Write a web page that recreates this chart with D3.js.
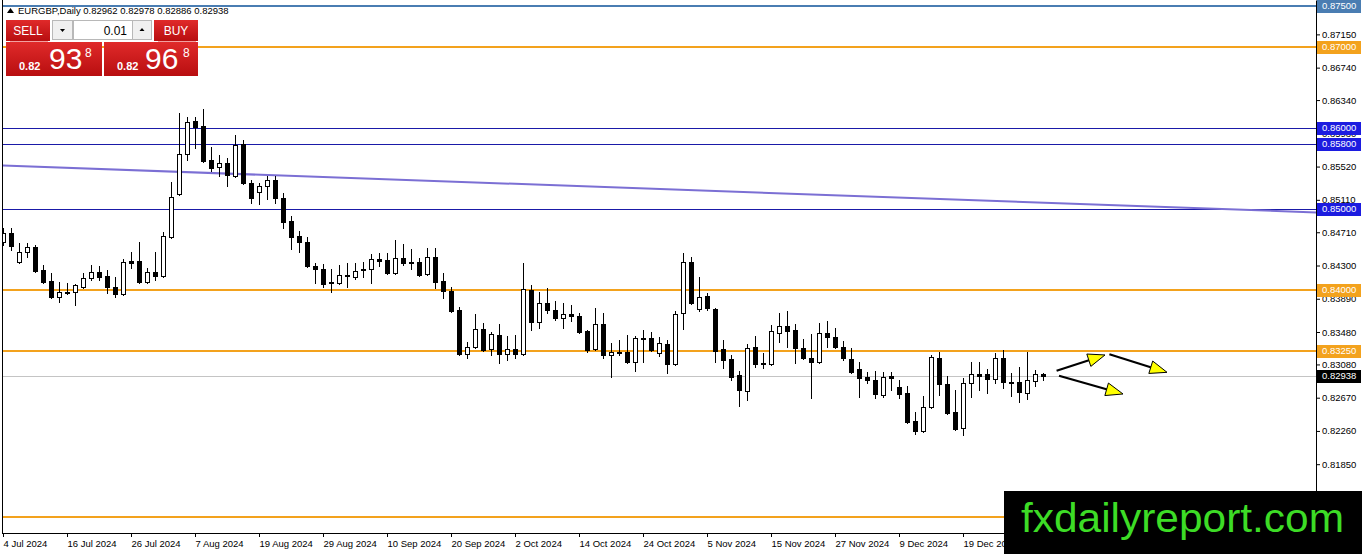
<!DOCTYPE html>
<html>
<head>
<meta charset="utf-8">
<script src="https://cdn.jsdelivr.net/npm/d3@7"></script>
<style>
body { margin: 0; background: #fff; }
svg { display: block; font-family: 'Liberation Sans', Arial, sans-serif; }
</style>
</head>
<body>
<svg id="chart" width="1362" height="554"></svg>
<script>
// ---- data ----
var symbol = 'EURGBP,Daily';
var lastQuote = [0.82962, 0.82978, 0.82886, 0.82938];   // O H L C of the last bar
var bidParts = ['0.82', '93', '8'];
var askParts = ['0.82', '96', '8'];
var lotSize = '0.01';
var currentPrice = 0.82938;

// daily bars from 4 Jul 2024, [open, high, low, close]
var ohlc = [
  [0.84590, 0.84763, 0.84553, 0.84701],
  [0.84701, 0.84763, 0.84491, 0.84541],
  [0.84343, 0.84578, 0.84331, 0.84467],
  [0.84467, 0.84578, 0.84405, 0.84528],
  [0.84528, 0.84553, 0.84220, 0.84233],
  [0.84245, 0.84306, 0.84085, 0.84097],
  [0.84109, 0.84208, 0.83900, 0.83912],
  [0.83912, 0.84097, 0.83850, 0.83974],
  [0.83974, 0.84085, 0.83949, 0.83961],
  [0.83974, 0.84072, 0.83813, 0.84060],
  [0.84035, 0.84208, 0.84023, 0.84146],
  [0.84146, 0.84306, 0.84122, 0.84220],
  [0.84220, 0.84294, 0.84122, 0.84159],
  [0.84171, 0.84245, 0.83961, 0.84035],
  [0.84035, 0.84159, 0.83912, 0.83949],
  [0.83949, 0.84380, 0.83937, 0.84343],
  [0.84356, 0.84467, 0.84270, 0.84331],
  [0.84356, 0.84590, 0.84085, 0.84097],
  [0.84097, 0.84270, 0.84085, 0.84220],
  [0.84220, 0.84467, 0.84122, 0.84171],
  [0.84171, 0.84713, 0.84159, 0.84664],
  [0.84652, 0.85330, 0.84639, 0.85145],
  [0.85182, 0.86181, 0.85170, 0.85675],
  [0.85675, 0.86131, 0.85601, 0.86070],
  [0.86082, 0.86131, 0.85749, 0.86008],
  [0.86020, 0.86230, 0.85577, 0.85589],
  [0.85601, 0.85761, 0.85466, 0.85503],
  [0.85515, 0.85663, 0.85404, 0.85564],
  [0.85564, 0.85626, 0.85281, 0.85416],
  [0.85404, 0.85909, 0.85392, 0.85786],
  [0.85798, 0.85848, 0.85305, 0.85318],
  [0.85318, 0.85355, 0.85071, 0.85133],
  [0.85207, 0.85318, 0.85059, 0.85281],
  [0.85281, 0.85404, 0.85120, 0.85355],
  [0.85355, 0.85404, 0.85071, 0.85133],
  [0.85133, 0.85194, 0.84763, 0.84837],
  [0.84849, 0.84911, 0.84504, 0.84652],
  [0.84664, 0.84726, 0.84467, 0.84590],
  [0.84590, 0.84652, 0.84282, 0.84294],
  [0.84294, 0.84331, 0.84085, 0.84257],
  [0.84257, 0.84319, 0.84035, 0.84072],
  [0.84097, 0.84257, 0.83974, 0.84085],
  [0.84085, 0.84306, 0.84072, 0.84183],
  [0.84183, 0.84331, 0.84035, 0.84171],
  [0.84159, 0.84331, 0.84134, 0.84233],
  [0.84257, 0.84343, 0.84159, 0.84245],
  [0.84257, 0.84442, 0.84085, 0.84380],
  [0.84380, 0.84454, 0.84294, 0.84356],
  [0.84368, 0.84454, 0.84196, 0.84208],
  [0.84208, 0.84615, 0.84196, 0.84393],
  [0.84393, 0.84565, 0.84306, 0.84331],
  [0.84343, 0.84504, 0.84257, 0.84331],
  [0.84343, 0.84393, 0.84171, 0.84183],
  [0.84196, 0.84516, 0.84183, 0.84405],
  [0.84405, 0.84516, 0.84023, 0.84097],
  [0.84109, 0.84208, 0.83900, 0.83986],
  [0.83986, 0.84035, 0.83727, 0.83739],
  [0.83752, 0.83789, 0.83197, 0.83209],
  [0.83209, 0.83357, 0.83160, 0.83296],
  [0.83296, 0.83702, 0.83283, 0.83517],
  [0.83517, 0.83591, 0.83246, 0.83259],
  [0.83271, 0.83480, 0.83197, 0.83456],
  [0.83443, 0.83579, 0.83098, 0.83209],
  [0.83209, 0.83431, 0.83135, 0.83271],
  [0.83271, 0.83443, 0.83160, 0.83209],
  [0.83209, 0.84331, 0.83197, 0.84011],
  [0.83998, 0.84060, 0.83505, 0.83604],
  [0.83604, 0.83974, 0.83530, 0.83838],
  [0.83838, 0.84023, 0.83715, 0.83752],
  [0.83752, 0.83863, 0.83628, 0.83653],
  [0.83653, 0.83838, 0.83530, 0.83702],
  [0.83702, 0.83813, 0.83616, 0.83678],
  [0.83678, 0.83715, 0.83468, 0.83480],
  [0.83493, 0.83505, 0.83234, 0.83259],
  [0.83271, 0.83776, 0.83259, 0.83579],
  [0.83579, 0.83715, 0.83160, 0.83197],
  [0.83197, 0.83345, 0.82926, 0.83234],
  [0.83234, 0.83382, 0.83197, 0.83222],
  [0.83234, 0.83443, 0.83098, 0.83111],
  [0.83111, 0.83431, 0.83000, 0.83407],
  [0.83407, 0.83505, 0.83111, 0.83394],
  [0.83407, 0.83480, 0.83246, 0.83259],
  [0.83222, 0.83419, 0.83185, 0.83345],
  [0.83333, 0.83382, 0.82975, 0.83086],
  [0.83086, 0.83739, 0.83074, 0.83702],
  [0.83715, 0.84454, 0.83517, 0.84343],
  [0.84343, 0.84405, 0.83826, 0.83838],
  [0.83764, 0.84159, 0.83739, 0.83912],
  [0.83924, 0.83961, 0.83752, 0.83776],
  [0.83764, 0.83776, 0.83111, 0.83246],
  [0.83271, 0.83382, 0.83037, 0.83135],
  [0.83148, 0.83197, 0.82889, 0.82926],
  [0.82950, 0.83000, 0.82568, 0.82765],
  [0.82753, 0.83333, 0.82642, 0.83283],
  [0.83296, 0.83431, 0.83049, 0.83086],
  [0.83098, 0.83222, 0.83037, 0.83086],
  [0.83086, 0.83567, 0.83074, 0.83493],
  [0.83468, 0.83715, 0.83357, 0.83554],
  [0.83554, 0.83739, 0.83296, 0.83493],
  [0.83505, 0.83579, 0.83098, 0.83283],
  [0.83283, 0.83394, 0.83148, 0.83160],
  [0.83160, 0.83456, 0.82667, 0.83111],
  [0.83111, 0.83591, 0.83098, 0.83468],
  [0.83468, 0.83616, 0.83296, 0.83419],
  [0.83419, 0.83530, 0.83283, 0.83296],
  [0.83296, 0.83370, 0.83135, 0.83160],
  [0.83148, 0.83283, 0.82975, 0.82987],
  [0.83024, 0.83111, 0.82679, 0.82913],
  [0.82926, 0.82987, 0.82852, 0.82889],
  [0.82889, 0.83000, 0.82667, 0.82716],
  [0.82704, 0.82987, 0.82679, 0.82926],
  [0.82938, 0.82987, 0.82765, 0.82913],
  [0.82802, 0.82889, 0.82667, 0.82716],
  [0.82728, 0.82815, 0.82358, 0.82371],
  [0.82383, 0.82494, 0.82223, 0.82260],
  [0.82260, 0.82691, 0.82247, 0.82556],
  [0.82556, 0.83197, 0.82543, 0.83172],
  [0.83160, 0.83234, 0.82704, 0.82839],
  [0.82839, 0.82938, 0.82469, 0.82482],
  [0.82494, 0.82765, 0.82272, 0.82284],
  [0.82297, 0.82913, 0.82210, 0.82852],
  [0.82852, 0.83111, 0.82679, 0.82963],
  [0.82963, 0.83111, 0.82765, 0.82938],
  [0.82963, 0.83024, 0.82728, 0.82901],
  [0.82901, 0.83222, 0.82852, 0.83160],
  [0.83160, 0.83259, 0.82790, 0.82864],
  [0.82864, 0.82975, 0.82691, 0.82852],
  [0.82864, 0.83049, 0.82617, 0.82741],
  [0.82728, 0.83234, 0.82654, 0.82889],
  [0.82876, 0.83012, 0.82815, 0.82963],
  [0.82962, 0.82978, 0.82886, 0.82938]
];

// date labels under the chart, one every 8 bars
var xTickBars = [0, 8, 16, 24, 32, 40, 48, 56, 64, 72, 80, 88, 96, 104, 112, 120];
var xTickLabels = ['4 Jul 2024', '16 Jul 2024', '26 Jul 2024', '7 Aug 2024', '19 Aug 2024',
  '29 Aug 2024', '10 Sep 2024', '20 Sep 2024', '2 Oct 2024', '14 Oct 2024', '24 Oct 2024',
  '5 Nov 2024', '15 Nov 2024', '27 Nov 2024', '9 Dec 2024', '19 Dec 2024'];

// price scale ticks
var yTicks = [0.87150, 0.86740, 0.86340, 0.85930, 0.85520, 0.85110, 0.84710, 0.84300,
  0.83890, 0.83480, 0.83080, 0.82670, 0.82260, 0.81850];

// horizontal levels drawn on the chart (the lowest one has its tag under the logo)
var levelPrices = [0.875, 0.870, 0.860, 0.858, 0.850, 0.840, 0.8325, 0.812];
var levelKinds = ['top', 'orange', 'blue', 'blue', 'blue', 'orange', 'orange', 'orange'];
var levelTagged = [true, true, true, true, true, true, true, false];

// falling trend line, [bar, price]
var trendLine = [[0, 0.85532], [164, 0.84955]];

// the three forecast arrows, [bar, price] from -> to
var arrows = [
  [[131.7, 0.83003], [137.75, 0.83197]],
  [[138.3, 0.83205], [145.5, 0.82983]],
  [[132.0, 0.82941], [140.0, 0.82716]]
];

// ---- layout ----
var svg = d3.select('#chart');
var W = 1362, H = 554;
var plot = {l: 2, r: 1316, t: 0, b: 533};

var levelStyle = {
  top:    {line: '#4a7db2', label: '#4a7db2', width: 2},
  orange: {line: '#f3a21d', label: '#f3a21d', width: 2},
  blue:   {line: '#1a1aa8', label: '#1c1ce0', width: 1}
};

var x = d3.scaleLinear().domain([0, 164]).range([3, 1315]);
var y = d3.scaleLinear().domain([0.87574, 0.80977]).range([0, 535]);

svg.append('rect').attr('width', W).attr('height', H).attr('fill', '#fff');

var defs = svg.append('defs');
defs.append('clipPath').attr('id', 'plotClip')
  .append('rect').attr('x', 3).attr('y', 0).attr('width', plot.r - 3).attr('height', plot.b);
var grad = defs.append('linearGradient').attr('id', 'redGrad')
  .attr('x1', 0).attr('y1', 0).attr('x2', 0).attr('y2', 1);
grad.append('stop').attr('offset', '0%').attr('stop-color', '#e02a2a');
grad.append('stop').attr('offset', '100%').attr('stop-color', '#b80e10');

var g = svg.append('g').attr('clip-path', 'url(#plotClip)');

// price axis on the right
var yAxis = svg.append('g')
  .attr('transform', 'translate(' + plot.r + ',0)')
  .call(d3.axisRight(y).tickValues(yTicks).tickFormat(d3.format('.5f')).tickSize(4).tickSizeOuter(0));
yAxis.attr('font-family', null).attr('font-size', null);
yAxis.selectAll('text').attr('font-size', '9.5px').attr('x', 6).attr('fill', '#000');
yAxis.select('.domain').attr('stroke', '#000');

// date axis at the bottom
var xAxis = svg.append('g')
  .attr('transform', 'translate(0,' + plot.b + ')')
  .call(d3.axisBottom(x).tickValues(xTickBars)
    .tickFormat(function(d, i) { return xTickLabels[i]; })
    .tickSize(4).tickSizeOuter(0));
xAxis.attr('font-family', null).attr('font-size', null);
xAxis.selectAll('text').attr('font-size', '9.5px').attr('text-anchor', 'start').attr('x', 0).attr('fill', '#000');
xAxis.select('.domain').attr('d', 'M' + plot.l + ',0.5H' + plot.r);

// left frame
svg.append('line').attr('x1', 2.5).attr('x2', 2.5).attr('y1', 0).attr('y2', plot.b)
  .attr('stroke', '#000');

// current price line
var cy = Math.round(y(currentPrice)) + 0.5;
g.append('line').attr('x1', plot.l).attr('x2', plot.r).attr('y1', cy).attr('y2', cy)
  .attr('stroke', '#c4c4c4').attr('stroke-width', 1);

// horizontal levels
levelPrices.forEach(function(p, i) {
  var st = levelStyle[levelKinds[i]];
  var ly = st.width === 1 ? Math.round(y(p)) + 0.5 : Math.round(y(p));
  g.append('line').attr('x1', 0).attr('x2', plot.r).attr('y1', ly).attr('y2', ly)
    .attr('stroke', st.line).attr('stroke-width', st.width);
});

// trend line
var slope = (trendLine[1][1] - trendLine[0][1]) / (trendLine[1][0] - trendLine[0][0]);
g.append('line')
  .attr('x1', x(-1)).attr('y1', y(trendLine[0][1] - slope))
  .attr('x2', x(166)).attr('y2', y(trendLine[0][1] + slope * 166))
  .attr('stroke', '#7b6fd4').attr('stroke-width', 2);

// candles
var bars = g.append('g').attr('class', 'candles');
ohlc.forEach(function(d, i) {
  var xi = Math.round(x(i));
  var o = d[0], h = d[1], l = d[2], c = d[3];
  bars.append('line')
    .attr('x1', xi + 0.5).attr('x2', xi + 0.5)
    .attr('y1', Math.round(y(h))).attr('y2', Math.round(y(l)) + 1)
    .attr('stroke', '#000').attr('stroke-width', 1);
  var yo = Math.round(y(o)), yc = Math.round(y(c));
  if (c > o) {
    bars.append('rect')
      .attr('x', xi - 1.5).attr('y', yc + 0.5)
      .attr('width', 4).attr('height', Math.max(1, yo - yc))
      .attr('fill', '#fff').attr('stroke', '#000').attr('stroke-width', 1);
  } else {
    bars.append('rect')
      .attr('x', xi - 2).attr('y', yo)
      .attr('width', 5).attr('height', Math.max(1, yc - yo + 1))
      .attr('fill', '#000');
  }
});

// arrows
arrows.forEach(function(a) {
  var x0 = x(a[0][0]), y0 = y(a[0][1]), x1 = x(a[1][0]), y1 = y(a[1][1]);
  var ang = Math.atan2(y1 - y0, x1 - x0);
  var len = 17, hw = 6.5;
  g.append('line').attr('x1', x0).attr('y1', y0)
    .attr('x2', x1 - Math.cos(ang) * 8).attr('y2', y1 - Math.sin(ang) * 8)
    .attr('stroke', '#000').attr('stroke-width', 2.2);
  var bx = x1 - Math.cos(ang) * len, by = y1 - Math.sin(ang) * len;
  var px = -Math.sin(ang) * hw, py = Math.cos(ang) * hw;
  g.append('path')
    .attr('d', 'M' + x1 + ',' + y1 + 'L' + (bx + px) + ',' + (by + py) + 'L' + (bx - px) + ',' + (by - py) + 'Z')
    .attr('fill', '#ffff00').attr('stroke', '#000').attr('stroke-width', 1);
});

// price labels for levels (drawn over the axis)
function priceTag(p, bg) {
  var ty = Math.round(y(p));
  svg.append('rect').attr('x', plot.r + 1).attr('y', ty - 6).attr('width', 44).attr('height', 13)
    .attr('fill', bg);
  svg.append('text').attr('x', plot.r + 6).attr('y', ty).attr('dy', '0.35em')
    .attr('font-size', '9.5px').attr('fill', '#fff').text(d3.format('.5f')(p));
}
levelPrices.forEach(function(p, i) {
  if (levelTagged[i]) priceTag(p, levelStyle[levelKinds[i]].label);
});
priceTag(currentPrice, '#000');

// header text
svg.append('path').attr('d', 'M7,13L10.5,8L14,13Z').attr('fill', '#000');
svg.append('text').attr('x', 18).attr('y', 13.5).attr('font-size', '9.5px').attr('fill', '#000')
  .text(symbol + '  ' + lastQuote.map(d3.format('.5f')).join(' '));

// one-click trading panel
var panel = svg.append('g');
panel.append('rect').attr('x', 6).attr('y', 20).attr('width', 44).attr('height', 21).attr('fill', 'url(#redGrad)');
panel.append('rect').attr('x', 154).attr('y', 20).attr('width', 44).attr('height', 21).attr('fill', 'url(#redGrad)');
panel.append('text').attr('x', 28).attr('y', 35).attr('text-anchor', 'middle')
  .attr('font-size', '12px').attr('fill', '#fff').text('SELL');
panel.append('text').attr('x', 176).attr('y', 35).attr('text-anchor', 'middle')
  .attr('font-size', '12px').attr('fill', '#fff').text('BUY');
panel.append('line').attr('x1', 10).attr('x2', 48).attr('y1', 41.5).attr('y2', 41.5).attr('stroke', '#f2a0a0');
panel.append('line').attr('x1', 158).attr('x2', 196).attr('y1', 41.5).attr('y2', 41.5).attr('stroke', '#f2a0a0');
panel.append('rect').attr('x', 52.5).attr('y', 20.5).attr('width', 20).attr('height', 19)
  .attr('fill', '#f0f0f0').attr('stroke', '#b8b8b8');
panel.append('rect').attr('x', 73.5).attr('y', 20.5).attr('width', 59).attr('height', 19)
  .attr('fill', '#fff').attr('stroke', '#b8b8b8');
panel.append('rect').attr('x', 132.5).attr('y', 20.5).attr('width', 19).attr('height', 19)
  .attr('fill', '#f0f0f0').attr('stroke', '#b8b8b8');
panel.append('path').attr('d', 'M60,29L65,29L62.5,32Z').attr('fill', '#000');
panel.append('path').attr('d', 'M139.5,31L144.5,31L142,28Z').attr('fill', '#000');
panel.append('text').attr('x', 127).attr('y', 35).attr('text-anchor', 'end')
  .attr('font-size', '12px').attr('fill', '#000').text(lotSize);

function quoteBox(bx, bw, parts, xs) {
  panel.append('rect').attr('x', bx).attr('y', 42).attr('width', bw).attr('height', 34)
    .attr('fill', 'url(#redGrad)');
  panel.append('text').attr('x', xs[0]).attr('y', 70).attr('font-size', '11px')
    .attr('font-weight', 'bold').attr('fill', '#fff').text(parts[0]);
  panel.append('text').attr('x', xs[1]).attr('y', 69).attr('font-size', '30px')
    .attr('fill', '#fff').text(parts[1]);
  panel.append('text').attr('x', xs[2]).attr('y', 57).attr('font-size', '12px')
    .attr('fill', '#fff').text(parts[2]);
}
quoteBox(6, 96, bidParts, [19, 49, 85]);
quoteBox(104, 94, askParts, [117, 145, 183]);

// watermark
svg.append('rect').attr('x', 1004).attr('y', 491).attr('width', W - 1004).attr('height', H - 491)
  .attr('fill', '#000');
svg.append('text').attr('x', 1021).attr('y', 532).attr('font-size', '41px')
  .attr('fill', '#3ddc26').attr('textLength', 323).attr('lengthAdjust', 'spacingAndGlyphs')
  .text('fxdailyreport.com');
</script>
</body>
</html>
